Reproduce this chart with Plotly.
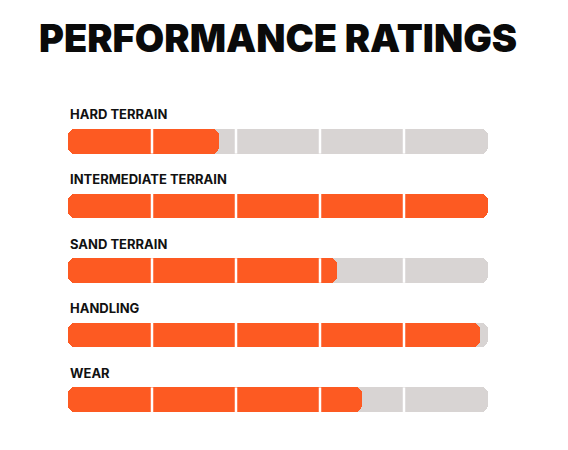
import plotly.graph_objects as go

# ---- data ----
categories = ["HARD TERRAIN", "INTERMEDIATE TERRAIN", "SAND TERRAIN", "HANDLING", "WEAR"]
ratings = [1.8, 5.0, 3.2, 4.9, 3.5]
scale_max = 5
dividers = [1, 2, 3, 4]
title_text = "PERFORMANCE RATINGS"

# ---- style ----
ORANGE = "#FD5A22"
GRAY = "#D8D4D3"
BW = 0.38
R = 7
FONT = "Inter"

n = len(categories)
rows = list(range(n))
half = scale_max / 2

fig = go.Figure()
# gray track: left part rounded on the left, right half rounded on the right
fig.add_bar(y=rows, x=[-scale_max] * n, base=[scale_max] * n, orientation="h",
            width=BW, marker=dict(color=GRAY, cornerradius=R, line=dict(width=0)),
            hoverinfo="skip")
fig.add_bar(y=rows, x=[half] * n, base=[half] * n, orientation="h",
            width=BW, marker=dict(color=GRAY, cornerradius=R, line=dict(width=0)),
            hoverinfo="skip")
# orange rating: rounded on the left, square at the value
fig.add_bar(y=rows, x=[-v for v in ratings], base=ratings, orientation="h",
            width=BW, marker=dict(color=ORANGE, cornerradius=R, line=dict(width=0)),
            hoverinfo="skip")
# full ratings get a rounded right end
full_rows = [i for i, v in enumerate(ratings) if v >= scale_max]
if full_rows:
    fig.add_bar(y=full_rows, x=[half] * len(full_rows), base=[half] * len(full_rows),
                orientation="h", width=BW,
                marker=dict(color=ORANGE, cornerradius=R, line=dict(width=0)),
                hoverinfo="skip")

# white dividers between segments
for i in rows:
    for d in dividers:
        fig.add_shape(type="line", xref="x", yref="y", x0=d, x1=d,
                      y0=i - BW / 2, y1=i + BW / 2,
                      line=dict(color="white", width=2.5), layer="above")

# labels above each bar
for i, c in enumerate(categories):
    fig.add_annotation(x=0, y=i, xref="x", yref="y", text=c, showarrow=False,
                       xanchor="left", yanchor="middle", yshift=27,
                       font=dict(family=FONT, size=13, color="#111111", weight=700))

fig.update_layout(
    width=560, height=442,
    margin=dict(l=60, r=80, t=101, b=18),
    paper_bgcolor="white", plot_bgcolor="white",
    barmode="overlay", showlegend=False, bargap=0,
    title=dict(text=title_text, x=31 / 560, xanchor="left", y=1 - 30.5 / 442,
               yanchor="middle",
               font=dict(family=FONT, size=38, color="#0a0a0a", weight=900)),
    xaxis=dict(range=[0, scale_max], visible=False, fixedrange=True),
    yaxis=dict(range=[n - 0.5, -0.5], visible=False, fixedrange=True),
)

fig.write_html("out.html")
